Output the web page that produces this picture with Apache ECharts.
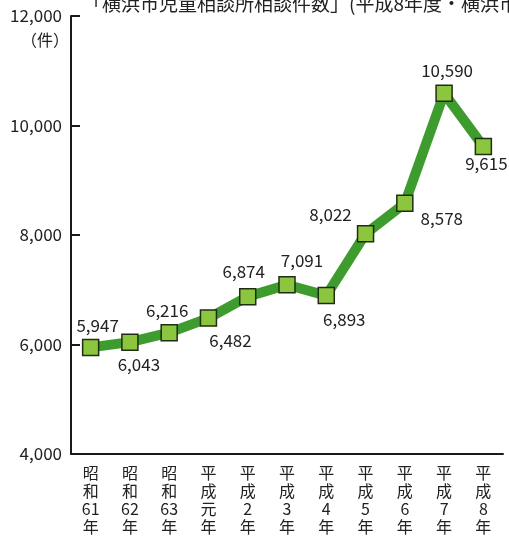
<!DOCTYPE html>
<html>
<head>
<meta charset="utf-8">
<script src="https://cdn.jsdelivr.net/npm/echarts@6/dist/echarts.min.js"></script>
<style>
html,body{margin:0;padding:0;background:#fff;}
#chart{width:509px;height:538px;}
</style>
</head>
<body>
<div id="chart"></div>
<script>
var titleText = '「横浜市児童相談所相談件数」(平成8年度・横浜市児童相談所)';
var unitText = '（件）';
var categories = ['昭\n和\n61\n年','昭\n和\n62\n年','昭\n和\n63\n年','平\n成\n元\n年','平\n成\n2\n年','平\n成\n3\n年','平\n成\n4\n年','平\n成\n5\n年','平\n成\n6\n年','平\n成\n7\n年','平\n成\n8\n年'];
var cases = [5947, 6043, 6216, 6482, 6874, 7091, 6893, 8022, 8578, 10590, 9615];
var yTicks = [4000, 6000, 8000, 10000, 12000];

// label placement per point (style only)
var labelSide = ['top','bottom','top','bottom','top','top','bottom','top','bottom','top','bottom'];
var labelShift = [[7,0],[9,0],[-2,0],[22,0],[-4,-3],[15,-2],[18,2],[-35,3],[37,-7],[3,0],[3,-5]];

var FONT = '"Noto Sans CJK JP", "Noto Sans", sans-serif';
var chart = echarts.init(document.getElementById('chart'));
var seriesData = cases.map(function (v, i) {
  return {
    value: v,
    label: { position: labelSide[i], offset: labelShift[i] }
  };
});
chart.setOption({
  animation: false,
  backgroundColor: '#ffffff',
  grid: { left: 71, right: 6, top: 16, bottom: 84, containLabel: false },
  graphic: [
    { type: 'text', left: 83, top: -6, style: { text: titleText, font: '19px ' + FONT, fill: '#222' } },
    { type: 'text', right: 440, top: 32, style: { text: unitText, font: '16px ' + FONT, fill: '#222' } }
  ],
  xAxis: {
    type: 'category',
    data: categories,
    boundaryGap: true,
    axisLine: { lineStyle: { color: '#1a1a1a', width: 2 } },
    axisTick: { inside: true, length: 8, lineStyle: { color: '#1a1a1a', width: 2 }, alignWithLabel: false },
    axisLabel: { margin: 10, fontSize: 16, lineHeight: 18, color: '#222', fontFamily: FONT, interval: 0 },
    splitLine: { show: false }
  },
  yAxis: {
    type: 'value',
    min: yTicks[0],
    max: yTicks[yTicks.length - 1],
    interval: 2000,
    axisLine: { show: true, lineStyle: { color: '#1a1a1a', width: 2 } },
    axisTick: { show: true, inside: true, length: 9, lineStyle: { color: '#1a1a1a', width: 2 } },
    axisLabel: {
      margin: 9, fontSize: 17, color: '#222', fontFamily: FONT,
      formatter: function (v) { return v.toLocaleString('en-US'); }
    },
    splitLine: { show: false }
  },
  series: [{
    type: 'line',
    data: seriesData,
    symbol: 'rect',
    symbolSize: 16,
    lineStyle: { color: '#3e9b2e', width: 10 },
    itemStyle: { color: '#8cc63e', borderColor: '#1f2e12', borderWidth: 1.5 },
    label: {
      show: true,
      fontSize: 17,
      color: '#222',
      fontFamily: FONT,
      formatter: function (p) { return p.value.toLocaleString('en-US'); }
    },
    z: 3
  }]
});
</script>
</body>
</html>
